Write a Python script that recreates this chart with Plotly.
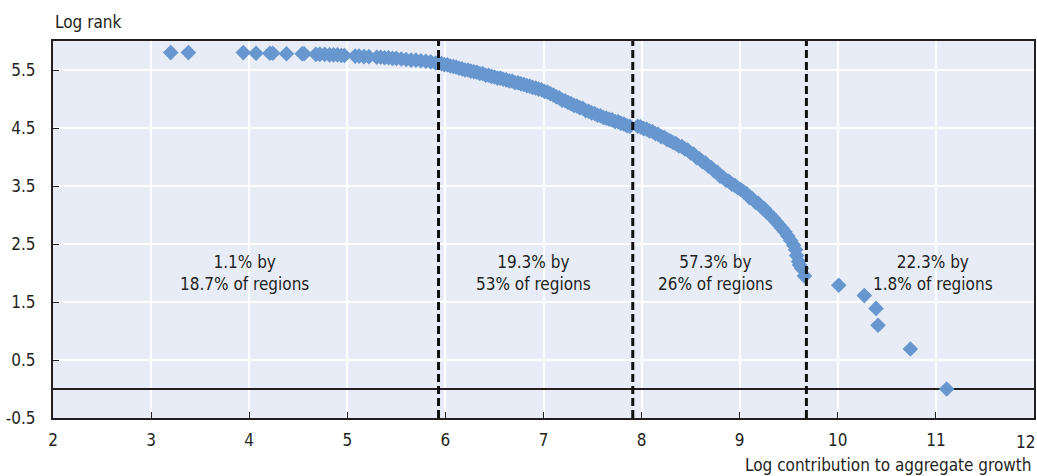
import plotly.graph_objects as go

# ---- data (x: log contribution, y: log rank) ----
x_top = [3.20, 3.38, 3.94, 4.07, 4.21, 4.24, 4.38, 4.54, 4.56, 4.68, 4.72, 4.77,
         4.82, 4.86, 4.90, 4.94, 4.97, 5.08, 5.12, 5.17, 5.22, 5.30, 5.34, 5.38,
         5.42, 5.46, 5.50, 5.55, 5.60, 5.65, 5.70, 5.75, 5.80, 5.85, 5.90]
y_top = [5.80, 5.80, 5.80, 5.79, 5.79, 5.79, 5.78, 5.78, 5.78, 5.77, 5.77, 5.77,
         5.76, 5.76, 5.76, 5.75, 5.75, 5.74, 5.74, 5.73, 5.73, 5.72, 5.72, 5.71,
         5.71, 5.70, 5.70, 5.69, 5.68, 5.67, 5.67, 5.66, 5.65, 5.64, 5.62]

x_mid = [5.96, 5.99, 6.02, 6.05, 6.08, 6.11, 6.14, 6.17, 6.20, 6.23, 6.26, 6.29,
         6.32, 6.35, 6.38, 6.41, 6.44, 6.47, 6.50, 6.53, 6.56, 6.59, 6.62, 6.65,
         6.68, 6.71, 6.74, 6.77, 6.80, 6.83, 6.86, 6.89, 6.92, 6.95, 6.98, 7.01,
         7.04, 7.07, 7.10, 7.13, 7.16, 7.19, 7.22, 7.25, 7.28, 7.31, 7.34, 7.37,
         7.40, 7.43, 7.46, 7.49, 7.52, 7.55, 7.58, 7.61, 7.64, 7.67, 7.70, 7.73,
         7.76, 7.79, 7.82, 7.85, 7.88]
y_mid = [5.61, 5.59, 5.59, 5.57, 5.56, 5.55, 5.53, 5.52, 5.50, 5.50, 5.48, 5.47,
         5.46, 5.44, 5.44, 5.41, 5.41, 5.39, 5.38, 5.36, 5.36, 5.34, 5.33, 5.31,
         5.31, 5.28, 5.28, 5.26, 5.25, 5.23, 5.22, 5.20, 5.19, 5.17, 5.16, 5.13,
         5.12, 5.09, 5.07, 5.04, 5.02, 4.98, 4.97, 4.94, 4.92, 4.89, 4.88, 4.85,
         4.84, 4.80, 4.79, 4.76, 4.75, 4.72, 4.71, 4.68, 4.67, 4.65, 4.64, 4.61,
         4.61, 4.58, 4.57, 4.54, 4.53]

x_high = [7.96, 7.99, 8.02, 8.05, 8.08, 8.11, 8.14, 8.17, 8.20, 8.23, 8.26, 8.29,
          8.32, 8.35, 8.38, 8.41, 8.44, 8.47, 8.50, 8.53, 8.56, 8.59, 8.62, 8.65,
          8.68, 8.71, 8.74, 8.77, 8.80, 8.83, 8.86, 8.89, 8.92, 8.95, 8.98, 9.01,
          9.04, 9.07, 9.10, 9.13, 9.16, 9.19, 9.22, 9.25, 9.28, 9.31, 9.34, 9.37,
          9.40, 9.43, 9.46, 9.49, 9.52, 9.55, 9.57, 9.58, 9.60, 9.61, 9.63, 9.66]
y_high = [4.53, 4.52, 4.49, 4.48, 4.45, 4.44, 4.40, 4.39, 4.35, 4.34, 4.30, 4.28,
          4.25, 4.23, 4.19, 4.18, 4.14, 4.12, 4.07, 4.05, 3.99, 3.97, 3.92, 3.90,
          3.84, 3.82, 3.76, 3.74, 3.67, 3.65, 3.60, 3.58, 3.53, 3.51, 3.47, 3.44,
          3.40, 3.37, 3.30, 3.28, 3.22, 3.20, 3.14, 3.11, 3.04, 3.00, 2.95, 2.89,
          2.83, 2.77, 2.71, 2.64, 2.56, 2.48, 2.40, 2.30, 2.20, 2.14, 2.08, 1.95]

x_tail = [10.01, 10.27, 10.39, 10.41, 10.74, 11.11]
y_tail = [1.79, 1.61, 1.39, 1.10, 0.69, 0.00]

thresholds = [5.93, 7.91, 9.68]
group_labels = ["1.1% by<br>18.7% of regions", "19.3% by<br>53% of regions",
                "57.3% by<br>26% of regions", "22.3% by<br>1.8% of regions"]
label_x = [3.95, 6.9, 8.75, 10.97]
label_y = 2.0

x_ticks = [2, 3, 4, 5, 6, 7, 8, 9, 10, 11]
y_ticks = [-0.5, 0.5, 1.5, 2.5, 3.5, 4.5, 5.5]

FONT = "Liberation Sans Narrow, Arial Narrow, DejaVu Sans Condensed, sans-serif"
TXT = "#231F20"
BLUE = "#6797CE"

xs = x_top + x_mid + x_high + x_tail
ys = y_top + y_mid + y_high + y_tail

fig = go.Figure()
fig.add_trace(go.Scatter(
    x=xs, y=ys, mode="markers",
    marker=dict(symbol="diamond", size=12, color=BLUE, line=dict(width=0)),
    showlegend=False, hoverinfo="x+y"))

shapes = []
for t in thresholds:
    shapes.append(dict(type="line", xref="x", yref="paper", x0=t, x1=t, y0=0, y1=1,
                       line=dict(color="#111111", width=3, dash="8px,4px"), layer="above"))
fig.update_layout(shapes=shapes)

annotations = []
for lx, txt in zip(label_x, group_labels):
    annotations.append(dict(x=lx, y=label_y, xref="x", yref="y", text=txt,
                            showarrow=False, xanchor="center", yanchor="middle",
                            font=dict(family=FONT, size=17, color=TXT)))
annotations.append(dict(x=0, y=1.05, xref="paper", yref="paper", text="Log rank",
                        showarrow=False, xanchor="left", yanchor="middle",
                        font=dict(family=FONT, size=17, color=TXT)))
annotations.append(dict(x=1, y=-0.125, xref="paper", yref="paper",
                        text="Log contribution to aggregate growth",
                        showarrow=False, xanchor="right", yanchor="middle",
                        font=dict(family=FONT, size=17, color=TXT)))
annotations.append(dict(x=12, y=-0.0637, xref="x", yref="paper", text="12",
                        showarrow=False, xanchor="right", yanchor="middle", xshift=3,
                        font=dict(family=FONT, size=17, color=TXT)))

fig.update_layout(
    annotations=annotations,
    width=1037, height=476,
    margin=dict(l=53, r=1, t=41, b=58),
    paper_bgcolor="white",
    plot_bgcolor="#E8ECF7",
    font=dict(family=FONT, size=17, color=TXT),
    xaxis=dict(range=[2, 12], tickvals=x_ticks, ticktext=[str(v) for v in x_ticks],
               showgrid=True, gridcolor="white", gridwidth=1.5,
               showline=True, linecolor="#231F20", linewidth=2, mirror=True,
               ticks="inside", ticklen=6, tickwidth=1, tickcolor="#231F20",
               ticklabelstandoff=6, zeroline=False),
    yaxis=dict(range=[-0.5, 6.0], tickvals=y_ticks, ticktext=[str(v) for v in y_ticks],
               showgrid=True, gridcolor="white", gridwidth=1.5,
               showline=True, linecolor="#231F20", linewidth=2, mirror=True,
               ticks="inside", ticklen=6, tickwidth=1, tickcolor="#231F20",
               ticklabelstandoff=12,
               zeroline=True, zerolinecolor="#231F20", zerolinewidth=2),
)

fig.write_html("out.html")
